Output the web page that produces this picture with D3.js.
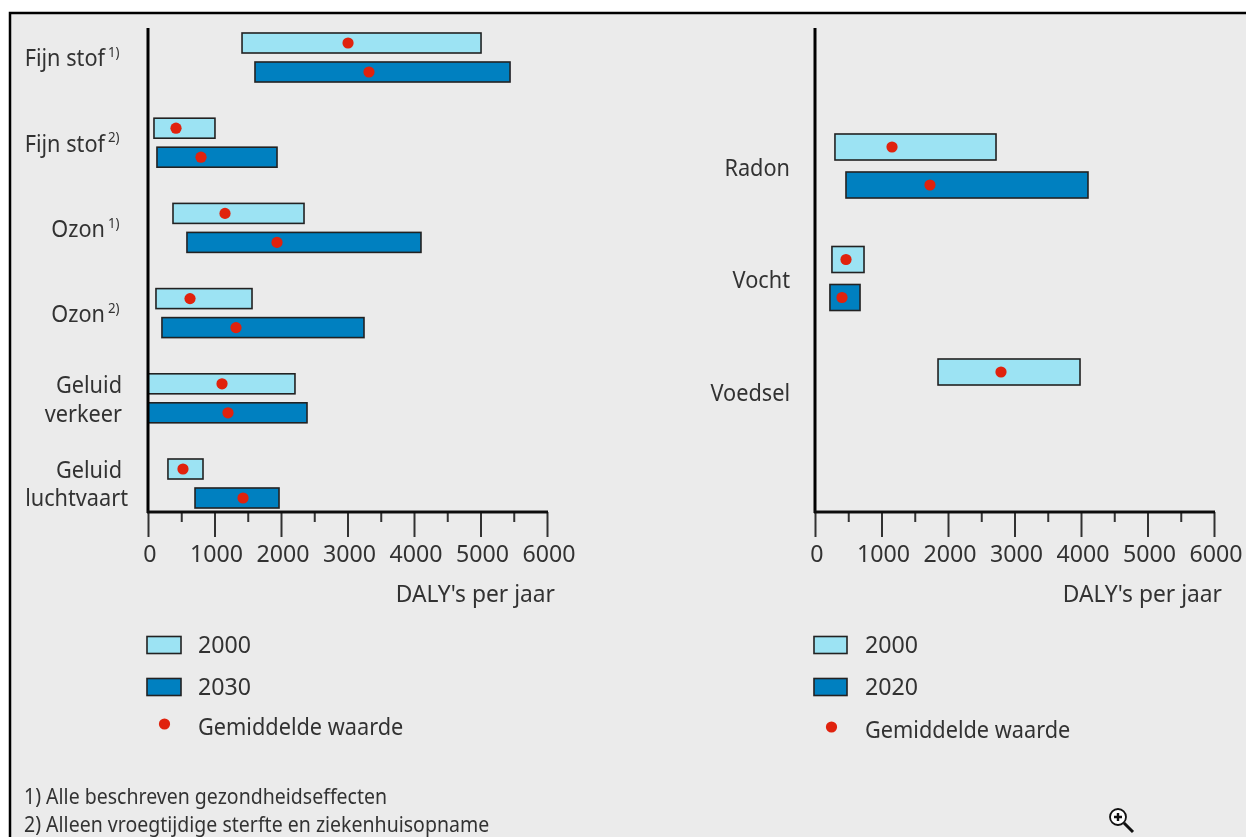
<!DOCTYPE html>
<html><head><meta charset="utf-8">
<script src="https://cdn.jsdelivr.net/npm/d3@7"></script>
<style>html,body{margin:0;padding:0;background:#fff;overflow:hidden}svg{display:block}</style>
</head><body><svg id="c" width="1246" height="837"></svg>
<script>
const leftCategories = ["Fijn stof 1","Fijn stof 2","Ozon 1","Ozon 2","Geluid verkeer","Geluid luchtvaart"];
const left2000Low  = [1414, 90, 376, 120, 0, 300];
const left2000High = [5008, 1007, 2346, 1564, 2210, 827];
const left2000Mean = [3008, 421, 1158, 632, 1113, 526];
const left2030Low  = [1609, 135, 586, 210, 0, 707];
const left2030High = [5444, 1940, 4105, 3248, 2391, 1970];
const left2030Mean = [3323, 797, 1940, 1323, 1203, 1429];
const rightCategories = ["Radon","Vocht","Voedsel"];
const right2000Low  = [300, 255, 1850];
const right2000High = [2722, 737, 3985];
const right2000Mean = [1158, 466, 2797];
const right2020Low  = [466, 225];
const right2020High = [4105, 677];
const right2020Mean = [1729, 406];
const axisTicks = [0,1000,2000,3000,4000,5000,6000];
const minorTicks = [500,1500,2500,3500,4500,5500];
const axisTitle = "DALY's per jaar";
const meanLabel = "Gemiddelde waarde";
const notes = ["1) Alle beschreven gezondheidseffecten","2) Alleen vroegtijdige sterfte en ziekenhuisopname"];

const LIGHT="#9ce3f3", DARK="#0080c0", RED="#e0200c", INK="#333";
const FONT="'Noto Sans',sans-serif", SX=0.905, SXD=0.965, SIZE=24;
const svg=d3.select("#c");
const blur=svg.append("defs").append("filter").attr("id","soft");
blur.append("feGaussianBlur").attr("stdDeviation",0.5);
svg.append("rect").attr("x",10).attr("y",13).attr("width",1240).attr("height",830)
  .attr("fill","#ebebeb").attr("stroke","#000").attr("stroke-width",2.5);
const root=svg.append("g").attr("filter","url(#soft)");

function label(x,y,t,opt={}){
  const size=opt.size||SIZE, sx=opt.sx||SX;
  return root.append("text").attr("transform",`translate(${x},${y}) scale(${sx},1)`)
    .attr("text-anchor",opt.anchor||"start").attr("dominant-baseline","central")
    .attr("font-family",FONT).attr("font-size",size).attr("fill",INK).text(t);
}
function axis(x,yBottom,yTop){
  const g=root.append("g").attr("transform",`translate(0,${yBottom})`);
  const major=d3.axisBottom(x).tickValues(axisTicks).tickSize(25).tickFormat(d3.format("d")).tickPadding(8);
  const ag=g.append("g").call(major);
  ag.select(".domain").remove();
  ag.selectAll("line").attr("stroke",INK).attr("stroke-width",2);
  ag.selectAll("text").attr("font-family",FONT).attr("font-size",SIZE).attr("fill",INK)
    .attr("transform",`translate(1.5,0) scale(${SXD},1)`);
  const mg=g.append("g").call(d3.axisBottom(x).tickValues(minorTicks).tickSize(10).tickFormat(""));
  mg.select(".domain").remove();
  mg.selectAll("line").attr("stroke",INK).attr("stroke-width",2);
  root.append("line").attr("x1",x(0)).attr("x2",x(0)).attr("y1",yTop).attr("y2",yBottom+1).attr("stroke","#000").attr("stroke-width",3);
  root.append("line").attr("x1",x(0)-1).attr("x2",x(6000)+1).attr("y1",yBottom).attr("y2",yBottom).attr("stroke","#111").attr("stroke-width",3);
}
function bars(x,cy,cats,low,high,mean,fill,offset,h){
  cats.slice(0,low.length).forEach((c,i)=>{
    const y=cy(c)+offset;
    root.append("rect").attr("x",x(low[i])).attr("y",y-h/2).attr("width",x(high[i])-x(low[i])).attr("height",h)
      .attr("fill",fill).attr("stroke","#222").attr("stroke-width",1.6);
    root.append("circle").attr("cx",x(mean[i])).attr("cy",y).attr("r",5.6).attr("fill",RED);
  });
}
function legend(x0,swW,labels,dotY){
  [[645,LIGHT,labels[0]],[687,DARK,labels[1]]].forEach(([y,f,t])=>{
    root.append("rect").attr("x",x0).attr("y",y-8.5).attr("width",swW).attr("height",17).attr("fill",f).attr("stroke","#222").attr("stroke-width",1.6);
    label(x0+51,y-1,t,{sx:SXD});
  });
  root.append("circle").attr("cx",x0+17.5).attr("cy",dotY-3).attr("r",5.6).attr("fill",RED);
  label(x0+51,dotY-1,meanLabel);
}

// left panel
const xL=d3.scaleLinear().domain([0,6000]).range([148,547]);
const yL=d3.scalePoint().domain(leftCategories).range([57.5,483.5]);
bars(xL,yL,leftCategories,left2000Low,left2000High,left2000Mean,LIGHT,-14.5,20);
bars(xL,yL,leftCategories,left2030Low,left2030High,left2030Mean,DARK,14.5,20);
axis(xL,512,28);
label(555,593,axisTitle,{anchor:"end",sx:.95});
legend(147,34,["2000","2030"],727);

function cat(name,y,sup,xEnd){
  label(xEnd,y,name,{anchor:"end"});
  label(xEnd+3,y-6,sup,{size:14,sx:.95});
}
cat("Fijn stof",yL("Fijn stof 1"),"1)",105);
cat("Fijn stof",yL("Fijn stof 2"),"2)",105);
cat("Ozon",yL("Ozon 1"),"1)",105);
cat("Ozon",yL("Ozon 2"),"2)",105);
label(122,384,"Geluid",{anchor:"end"});
label(122,413,"verkeer",{anchor:"end"});
label(122,469,"Geluid",{anchor:"end"});
label(128,497,"luchtvaart",{anchor:"end"});

// right panel
const xR=d3.scaleLinear().domain([0,6000]).range([815,1214]);
const yR=d3.scalePoint().domain(rightCategories).range([166,391]);
bars(xR,yR,rightCategories,right2000Low,right2000High,right2000Mean,LIGHT,-19,26);
bars(xR,yR,rightCategories,right2020Low,right2020High,right2020Mean,DARK,19,26);
axis(xR,512,28);
label(1222,593,axisTitle,{anchor:"end",sx:.95});
legend(814,33,["2000","2020"],730);
rightCategories.forEach(c=>label(790,yR(c)+1,c,{anchor:"end"}));

// footnotes
notes.forEach((n,i)=>label(24,796+i*28,n,{size:21,sx:.93}));

// magnifier cursor
const m=svg.append("g").attr("transform","translate(1118,817)").attr("fill","none").attr("stroke","#111");
m.append("circle").attr("r",8).attr("fill","#fff").attr("stroke-width",1.8);
m.append("path").attr("d","M-4,0H4M0,-4V4").attr("stroke-width",2.4);
m.append("path").attr("d","M6,6L15,15").attr("stroke-width",3);
</script></body></html>
